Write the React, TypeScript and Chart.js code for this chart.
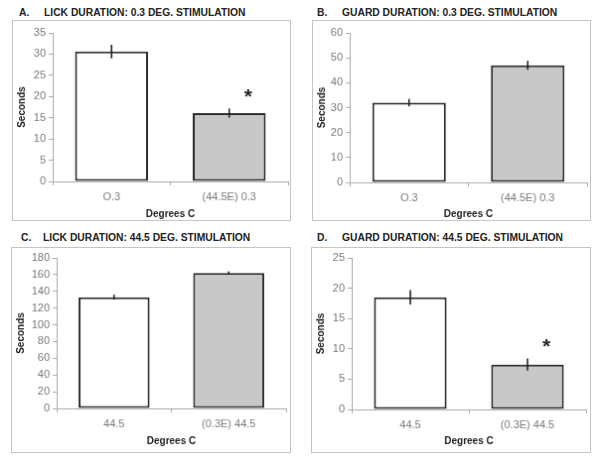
import React, { useEffect, useRef } from "react";
import { Chart, registerables } from "chart.js";

Chart.register(...registerables);

// ---- data ----
const labelsA = ["O.3", "(44.5E) 0.3"];
const valuesA = [30.6, 16.1];
const errorsA = [1.6, 1.1];
const sigA = [false, true];

const labelsB = ["O.3", "(44.5E) 0.3"];
const valuesB = [32, 47];
const errorsB = [1.5, 1.8];
const sigB = [false, false];

const labelsC = ["44.5", "(0.3E) 44.5"];
const valuesC = [133, 162];
const errorsC = [3, 2];
const sigC = [false, false];

const labelsD = ["44.5", "(0.3E) 44.5"];
const valuesD = [18.5, 7.4];
const errorsD = [1.2, 1.0];
const sigD = [false, true];

const yMaxes = [35, 60, 180, 25];
const ySteps = [5, 10, 20, 5];
const letters = ["A.", "B.", "C.", "D."];
const titles = [
  "LICK DURATION: 0.3 DEG. STIMULATION",
  "GUARD DURATION: 0.3 DEG. STIMULATION",
  "LICK DURATION: 44.5 DEG. STIMULATION",
  "GUARD DURATION: 44.5 DEG. STIMULATION",
];
const yTitle = "Seconds";
const xTitle = "Degrees C";
const barColors = ["#ffffff", "#c8c8c8"];

// ---- layout ----
const layouts = [
  { bx: 12, by: 20, bw: 281, bh: 203, left: 53, right: 290, top: 33, bottom: 183, xt: 214, ty: 13, lx: 19, tx: 44 },
  { bx: 312, by: 20, bw: 281, bh: 203, left: 350, right: 589, top: 33, bottom: 184, xt: 214, ty: 13, lx: 317, tx: 342 },
  { bx: 11, by: 247, bw: 282, bh: 208, left: 57, right: 288, top: 258, bottom: 410, xt: 441, ty: 238, lx: 21, tx: 43 },
  { bx: 311, by: 247, bw: 282, bh: 208, left: 352, right: 588, top: 258, bottom: 411, xt: 441, ty: 238, lx: 317, tx: 342 },
];

const panelData = [
  { labels: labelsA, values: valuesA, errors: errorsA, sig: sigA },
  { labels: labelsB, values: valuesB, errors: errorsB, sig: sigB },
  { labels: labelsC, values: valuesC, errors: errorsC, sig: sigC },
  { labels: labelsD, values: valuesD, errors: errorsD, sig: sigD },
];

const FONT = "'Liberation Sans', Arial, sans-serif";

const errorPlugin = {
  id: "errorBars",
  afterDatasetsDraw(chart: any) {
    const opts = chart.options.plugins.errorBars || {};
    const errors: number[] = opts.errors || [];
    const sig: boolean[] = opts.sig || [];
    const meta = chart.getDatasetMeta(0);
    const ys = chart.scales.y;
    const ctx = chart.ctx;
    const vals = chart.data.datasets[0].data as number[];
    ctx.save();
    meta.data.forEach((el: any, i: number) => {
      const v = vals[i];
      const e = errors[i];
      const y1 = ys.getPixelForValue(v + e);
      const y2 = ys.getPixelForValue(v - e);
      ctx.strokeStyle = "#222";
      ctx.lineWidth = 1.6;
      ctx.beginPath();
      ctx.moveTo(el.x, y1);
      ctx.lineTo(el.x, y2);
      ctx.stroke();
      if (sig[i]) {
        ctx.fillStyle = "#222";
        ctx.font = `bold 21px ${FONT}`;
        ctx.textAlign = "center";
        ctx.textBaseline = "middle";
        ctx.fillText("*", el.x + 19, y1 - 11);
      }
    });
    ctx.restore();
  },
};

function Panel({ idx }: { idx: number }) {
  const ref = useRef<HTMLCanvasElement>(null);
  const L = layouts[idx];
  const D = panelData[idx];
  const ox = L.bx + 1;
  const oy = L.by + 1;
  const cw = L.bw - 2;
  const ch = L.bh - 2;
  const xAxisH = L.xt - L.bottom + 8;
  const padBottom = Math.max(0, oy + ch - L.bottom - xAxisH);

  useEffect(() => {
    if (!ref.current) return;
    const chart = new Chart(ref.current, {
      type: "bar",
      data: {
        labels: D.labels,
        datasets: [
          {
            data: D.values,
            backgroundColor: barColors,
            borderColor: "#2a2a2a",
            borderWidth: 2,
            borderSkipped: false,
            barPercentage: 0.62,
            categoryPercentage: 1,
          },
        ],
      },
      options: {
        responsive: false,
        animation: false,
        layout: {
          padding: { left: 0, top: L.top - oy, right: ox + cw - L.right, bottom: padBottom },
        },
        plugins: {
          legend: { display: false },
          tooltip: { enabled: false },
          errorBars: { errors: D.errors, sig: D.sig },
        } as any,
        scales: {
          x: {
            offset: true,
            grid: { offset: true, drawOnChartArea: false, drawTicks: true, tickLength: 4, color: "#aaa" },
            border: { color: "#aaa", width: 1 },
            ticks: { color: "#7a7a7a", font: { family: FONT, size: 11 }, padding: 5, maxRotation: 0 },
            title: { display: true, text: xTitle, color: "#222", font: { family: FONT, size: 10, weight: "bold" }, padding: { top: 2, bottom: 0 } },
            afterFit: (s: any) => {
              s.height = xAxisH;
            },
          },
          y: {
            min: 0,
            max: yMaxes[idx],
            ticks: { stepSize: ySteps[idx], color: "#7a7a7a", font: { family: FONT, size: 11 }, padding: 3 },
            grid: { drawOnChartArea: false, drawTicks: true, tickLength: 4, color: "#aaa" },
            border: { color: "#aaa", width: 1 },
            title: { display: true, text: yTitle, color: "#222", font: { family: FONT, size: 10, weight: "bold" }, padding: { top: 3, bottom: 0 } },
            afterFit: (s: any) => {
              s.width = L.left - ox;
            },
          },
        },
      } as any,
      plugins: [errorPlugin],
    });
    return () => chart.destroy();
  }, []);

  const titleStyle: React.CSSProperties = {
    position: "absolute",
    top: L.ty - 7,
    font: `bold 10.3px ${FONT}`,
    color: "#222",
    whiteSpace: "nowrap",
    lineHeight: "14px",
  };

  return (
    <>
      <div style={{ ...titleStyle, left: L.lx }}>{letters[idx]}</div>
      <div style={{ ...titleStyle, left: L.tx }}>{titles[idx]}</div>
      <canvas
        ref={ref}
        width={cw}
        height={ch}
        style={{
          position: "absolute",
          left: L.bx,
          top: L.by,
          width: cw,
          height: ch,
          border: "1px solid #c4c4c4",
          display: "block",
        }}
      />
    </>
  );
}

export default function App() {
  return (
    <div style={{ position: "fixed", left: 0, top: 0, width: 600, height: 466, background: "#fff", overflow: "hidden" }}>
      {[0, 1, 2, 3].map((i) => (
        <Panel key={i} idx={i} />
      ))}
    </div>
  );
}
